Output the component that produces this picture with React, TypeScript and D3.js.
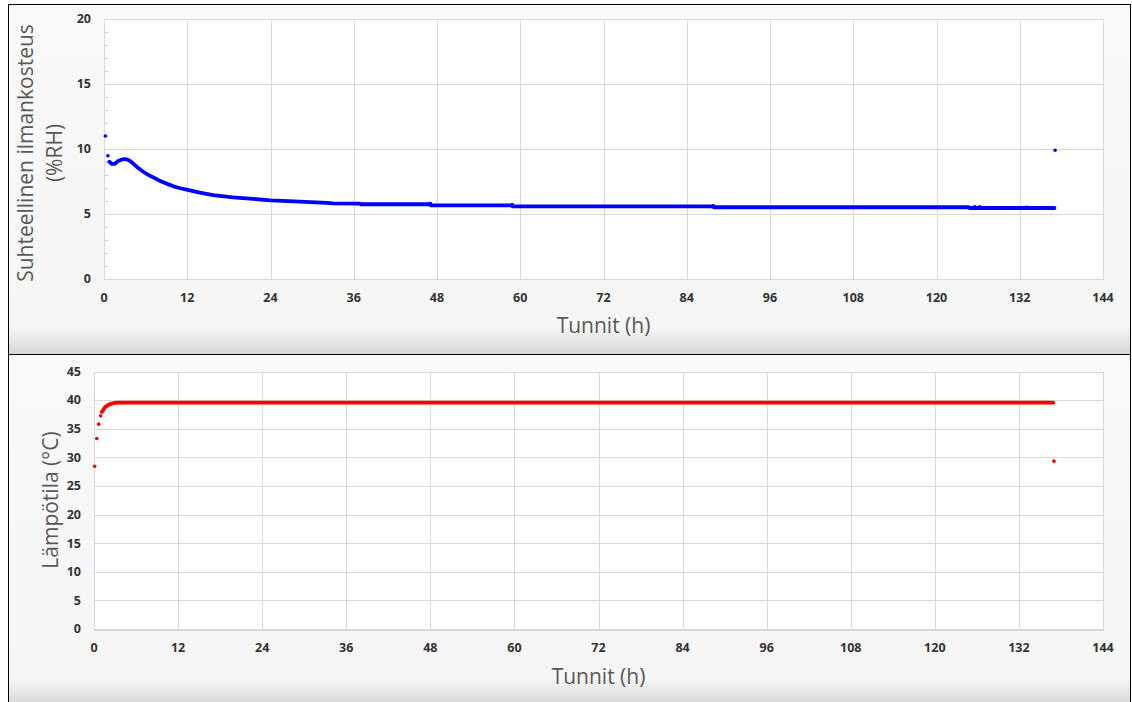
import React from 'react';
import * as d3 from 'd3';

const W = 1132;
const H = 702;

// Axis ticks
const xTicks = [0, 12, 24, 36, 48, 60, 72, 84, 96, 108, 120, 132, 144];
const rhTicks = [0, 5, 10, 15, 20];
const rhMinorTicks = [1, 2, 3, 4, 6, 7, 8, 9, 11, 12, 13, 14, 16, 17, 18, 19];
const tempTicks = [0, 5, 10, 15, 20, 25, 30, 35, 40, 45];

// Relative humidity (%RH) – continuous run of measurements
const rhLineTime = [0.77, 1.1, 1.57, 2.05, 2.5, 3.0, 3.4, 3.75, 4.2, 4.7, 5.66, 6.4, 7.1, 7.8, 8.54, 9.3, 10.0, 11.0, 12.05, 13.8, 15.74, 18.6, 21.0, 24.0, 28.2, 32.1, 33.0, 36.9, 37.0, 47.0, 47.1, 58.8, 58.9, 87.8, 87.9, 124.6, 124.8, 137.0];
const rhLineValue = [9.02, 8.85, 8.85, 9.08, 9.18, 9.23, 9.18, 9.08, 8.88, 8.64, 8.25, 8.0, 7.82, 7.62, 7.44, 7.28, 7.13, 6.98, 6.85, 6.64, 6.46, 6.28, 6.18, 6.05, 5.95, 5.85, 5.82, 5.8, 5.75, 5.75, 5.67, 5.67, 5.59, 5.59, 5.52, 5.52, 5.46, 5.46];
// Relative humidity – isolated measurements
const rhDotTime = [0.2, 0.56, 47.05, 58.85, 87.85, 125.5, 126.2, 133.0, 137.1];
const rhDotValue = [11.0, 9.48, 5.8, 5.72, 5.63, 5.55, 5.55, 5.52, 9.9];

// Temperature (°C) – continuous run
const tempLineTime = [1.13, 1.33, 1.57, 2.05, 2.52, 3.0, 3.5, 136.9];
const tempLineValue = [37.95, 38.3, 38.77, 39.17, 39.4, 39.5, 39.55, 39.55];
// Temperature – isolated measurements
const tempDotTime = [0.1, 0.4, 0.67, 0.95, 137.0];
const tempDotValue = [28.45, 33.28, 35.8, 37.25, 29.33];

const FONT = '"Open Sans", "Liberation Sans", sans-serif';

type PanelProps = {
  top: number;
  height: number;
  gradId: string;
  px0: number;
  px1: number;
  py0: number;
  py1: number;
  yMax: number;
  yTicks: number[];
  minor: number[];
  lineT: number[];
  lineV: number[];
  dotT: number[];
  dotV: number[];
  color: string;
  titleLines: string[];
  titleX: number[];
  titleY: number;
  xTitleY: number;
  xLabelY: number;
};

function Panel(p: PanelProps) {
  const x = d3.scaleLinear().domain([0, 144]).range([p.px0, p.px1]);
  const y = d3.scaleLinear().domain([0, p.yMax]).range([p.py1, p.py0]);
  const crisp = (v: number) => Math.round(v) + 0.5;
  const line = d3
    .line<number>()
    .x((_, i) => x(p.lineT[i]))
    .y((d) => y(d));
  const gridColor = '#d9d9d9';
  const labelColor = '#333333';
  return (
    <g>
      <rect x={8.5} y={p.top + 0.5} width={1122} height={p.height} fill={`url(#${p.gradId})`} stroke="#000" strokeWidth={1} />
      <rect x={p.px0} y={p.py0} width={p.px1 - p.px0} height={p.py1 - p.py0} fill="#fff" />
      {xTicks.map((t) => (
        <line key={'gx' + t} x1={crisp(x(t))} x2={crisp(x(t))} y1={p.py0} y2={p.py1} stroke={gridColor} strokeWidth={1} />
      ))}
      {p.yTicks.map((t) => (
        <line key={'gy' + t} x1={p.px0} x2={p.px1} y1={crisp(y(t))} y2={crisp(y(t))} stroke={gridColor} strokeWidth={1} />
      ))}
      {p.minor.map((t) => (
        <line key={'mt' + t} x1={p.px0} x2={p.px0 + 4} y1={crisp(y(t))} y2={crisp(y(t))} stroke="#c8c8c8" strokeWidth={1} />
      ))}
      <rect x={crisp(p.px0)} y={crisp(p.py0)} width={Math.round(p.px1 - p.px0)} height={Math.round(p.py1 - p.py0)} fill="none" stroke={gridColor} strokeWidth={1} />
      {p.yTicks.map((t) => (
        <text key={'ly' + t} x={p.px0 - 13} y={y(t)} dy="0.35em" textAnchor="end" fontFamily={FONT} fontWeight="bold" fontSize={12.5} fill={labelColor}>
          {t}
        </text>
      ))}
      {xTicks.map((t) => (
        <text key={'lx' + t} x={x(t)} y={p.xLabelY} dy="0.35em" textAnchor="middle" fontFamily={FONT} fontWeight="bold" fontSize={12.5} fill={labelColor}>
          {t}
        </text>
      ))}
      <path d={line(p.lineV) || ''} fill="none" stroke={p.color} strokeWidth={3.8} strokeLinejoin="round" strokeLinecap="round" />
      {p.dotV.map((v, i) => (
        <circle key={'d' + i} cx={x(p.dotT[i])} cy={y(v)} r={1.8} fill={p.color} />
      ))}
      <text x={(p.px0 + p.px1) / 2} y={p.xTitleY} textAnchor="middle" fontFamily={FONT} fontSize={21} fill="#595959">
        Tunnit (h)
      </text>
      {p.titleLines.map((s, i) => (
        <text
          key={'yt' + i}
          transform={`translate(${p.titleX[i]},${p.titleY}) rotate(-90)`}
          textAnchor="middle"
          fontFamily={FONT}
          fontSize={21}
          fill="#595959"
        >
          {s}
        </text>
      ))}
    </g>
  );
}

export default function App() {
  return (
    <div style={{ position: 'absolute', left: 0, top: 0 }}>
      <svg width={W} height={H} viewBox={`0 0 ${W} ${H}`} style={{ display: 'block', background: '#fff' }}>
        <defs>
          <linearGradient id="g1" x1="0" y1="0" x2="0" y2="1">
            <stop offset="0" stopColor="#f9f9f9" />
            <stop offset="0.92" stopColor="#f6f6f6" />
            <stop offset="1" stopColor="#d6d6d6" />
          </linearGradient>
          <linearGradient id="g2" x1="0" y1="0" x2="0" y2="1">
            <stop offset="0" stopColor="#f9f9f9" />
            <stop offset="0.92" stopColor="#f6f6f6" />
            <stop offset="1" stopColor="#d6d6d6" />
          </linearGradient>
        </defs>
        <Panel
          top={4}
          height={350}
          gradId="g1"
          px0={104}
          px1={1103}
          py0={19}
          py1={279}
          yMax={20}
          yTicks={rhTicks}
          minor={rhMinorTicks}
          lineT={rhLineTime}
          lineV={rhLineValue}
          dotT={rhDotTime}
          dotV={rhDotValue}
          color="#0000ff"
          titleLines={['Suhteellinen ilmankosteus', '(%RH)']}
          titleX={[33, 62]}
          titleY={153}
          xTitleY={333}
          xLabelY={298}
        />
        <Panel
          top={354}
          height={352}
          gradId="g2"
          px0={94}
          px1={1103}
          py0={371.5}
          py1={629}
          yMax={45}
          yTicks={tempTicks}
          minor={[]}
          lineT={tempLineTime}
          lineV={tempLineValue}
          dotT={tempDotTime}
          dotV={tempDotValue}
          color="#ff0000"
          titleLines={['Lämpötila (°C)']}
          titleX={[58]}
          titleY={500}
          xTitleY={684}
          xLabelY={648}
        />
      </svg>
    </div>
  );
}
